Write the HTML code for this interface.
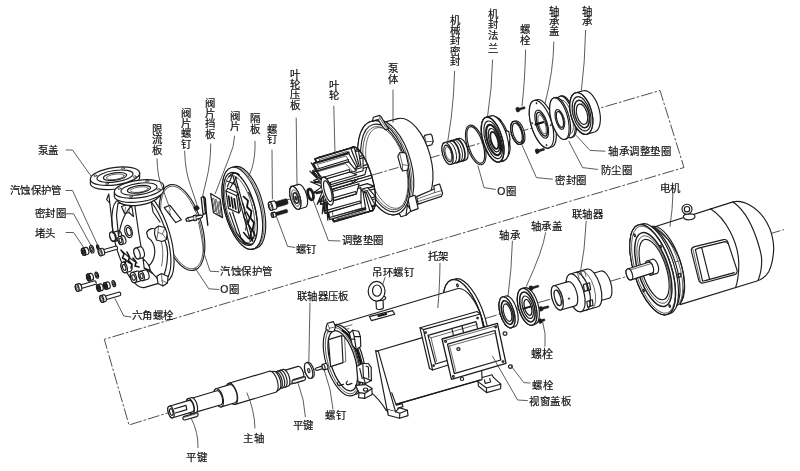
<!DOCTYPE html>
<html lang="zh-CN">
<head>
<meta charset="utf-8">
<title>泵结构分解图</title>
<style>
html,body{margin:0;padding:0;background:#fff;}
body{width:800px;height:471px;overflow:hidden;font-family:"Liberation Sans",sans-serif;}
svg{display:block;position:absolute;left:0;top:0;}
.o{fill:#fff;stroke:#1c1c1c;stroke-width:1.15;stroke-linejoin:round;stroke-linecap:round;}
.n{fill:none;stroke:#1c1c1c;stroke-width:1.15;stroke-linejoin:round;stroke-linecap:round;}
.t{fill:none;stroke:#2a2a2a;stroke-width:.7;stroke-linejoin:round;stroke-linecap:round;}
.b{fill:none;stroke:#111;stroke-width:1.5;stroke-linejoin:round;stroke-linecap:round;}
.k{fill:#1c1c1c;stroke:#1c1c1c;stroke-width:.5;stroke-linejoin:round;}
.ld{fill:none;stroke:#333;stroke-width:.8;stroke-linecap:round;stroke-linejoin:round;}
.ax{fill:none;stroke:#222;stroke-width:.8;stroke-dasharray:12 2 2.5 2;}
.lb{filter:grayscale(1);}
text{font-family:"Liberation Sans",sans-serif;font-size:10.4px;fill:#111;stroke:#111;stroke-width:.2;}
</style>
</head>
<body>
<svg width="800" height="471" viewBox="0 0 800 471">
<rect x="0" y="0" width="800" height="471" fill="#fff"/>
<!-- 00_axes -->
<g>
<path class="ax" d="M286 200.2L660 90.5L684 167.5L104.3 339.3L129 425L166 413.5"/>
<path class="ax" d="M166 413.5L784 229.6"/>
</g>
<!-- 10_cover -->
<g>
<ellipse cx="182" cy="227.5" rx="19.9" ry="44.4" transform="rotate(-16.3 182 227.5)" class="n"/>
<ellipse cx="182" cy="227.5" rx="18.4" ry="42.8" transform="rotate(-16.3 182 227.5)" class="t"/>
<path d="M119.15 199.44L141.22 192.99A16.2 45.8 -16.3 0 1 166.93 280.9L144.85 287.36A16.2 45.8 -16.3 0 1 119.15 199.44Z" class="o"/>
<path d="M144.38 195.98A16.2 44.8 -16.3 0 1 162.05 281.18" class="n"/>
<path d="M134.8 205.5L138.6 232L143 258.6" class="n"/>
<path d="M146.6 232.5C149 228 154 227 158 231C164 237 167.6 244 167.6 253C167.6 265 165 275 160.6 282L152.6 273.4L144.2 268L143 258.6C146 261 148 264 149 265.6C152 263 154.4 259 154.8 252C155 245 151 239.6 147.8 237.2Z" class="o"/>
<path d="M149 265.6L150.4 270.6L152.6 273.4M144.2 268L150.4 270.6" class="n"/>
<path d="M160.6 240C163 246 163.6 256 161.6 266" class="t"/>
<path d="M155 228.5L158.5 226L165 227.5L167 233L166.5 239.5L162 241.5L156.5 240L154.5 234Z" class="o"/>
<path d="M158.5 226L158 232.5L156.5 240M158 232.5L162.5 234L166.5 239.5M162.5 234L165 227.5" class="t"/>
<path d="M157 276L161.5 273.5L168 276.5L167.5 283L163 286L158 283.5Z" class="o"/>
<path d="M161.5 273.5L162 280.5L163 286M162 280.5L167.5 283" class="t"/>
<ellipse cx="128.5" cy="231.5" rx="3.6" ry="6.3" transform="rotate(-16.3 128.5 231.5)" class="o"/>
<ellipse cx="128.8" cy="231.5" rx="2.1" ry="4.1" transform="rotate(-16.3 128.8 231.5)" class="n"/>
<path d="M112.21 232.58L117.97 230.9A2.6 4.6 -16.3 0 1 120.55 239.73L114.79 241.42A2.6 4.6 -16.3 0 1 112.21 232.58Z" class="o"/>
<ellipse cx="113.5" cy="237" rx="2.6" ry="4.6" transform="rotate(-16.3 113.5 237)" class="o"/>
<ellipse cx="113.5" cy="237" rx="1.43" ry="2.53" transform="rotate(-16.3 113.5 237)" class="n"/>
<path d="M111.21 232.08L111.3 232.06A2.6 4.6 -16.3 0 1 113.89 240.89L113.79 240.92A2.6 4.6 -16.3 0 1 111.21 232.08Z" class="o"/>
<ellipse cx="112.5" cy="236.5" rx="2.6" ry="4.6" transform="rotate(-16.3 112.5 236.5)" class="o"/>
<path d="M119.32 236.47L122.2 235.63A2.4 4.2 -16.3 0 1 124.56 243.69L121.68 244.53A2.4 4.2 -16.3 0 1 119.32 236.47Z" class="o"/>
<ellipse cx="120.5" cy="240.5" rx="2.4" ry="4.2" transform="rotate(-16.3 120.5 240.5)" class="o"/>
<ellipse cx="120.5" cy="240.5" rx="1.32" ry="2.31" transform="rotate(-16.3 120.5 240.5)" class="n"/>
<path d="M135.43 248.13L139.75 246.86A2.8 5.6 -16.3 0 1 142.89 257.61L138.57 258.87A2.8 5.6 -16.3 0 1 135.43 248.13Z" class="o"/>
<ellipse cx="137" cy="253.5" rx="2.8" ry="5.6" transform="rotate(-16.3 137 253.5)" class="o"/>
<path d="M122.68 262.32L127.48 260.91A2.9 5.4 -16.3 0 1 130.51 271.28L125.72 272.68A2.9 5.4 -16.3 0 1 122.68 262.32Z" class="o"/>
<ellipse cx="124.2" cy="267.5" rx="2.9" ry="5.4" transform="rotate(-16.3 124.2 267.5)" class="o"/>
<ellipse cx="124.2" cy="267.5" rx="1.59" ry="2.97" transform="rotate(-16.3 124.2 267.5)" class="n"/>
<path d="M132.04 272.51L136.84 271.11A2.9 5.2 -16.3 0 1 139.76 281.09L134.96 282.49A2.9 5.2 -16.3 0 1 132.04 272.51Z" class="o"/>
<ellipse cx="133.5" cy="277.5" rx="2.9" ry="5.2" transform="rotate(-16.3 133.5 277.5)" class="o"/>
<ellipse cx="133.5" cy="277.5" rx="1.59" ry="2.86" transform="rotate(-16.3 133.5 277.5)" class="n"/>
<path d="M140.15 271.39L144.95 269.99A2.6 4.8 -16.3 0 1 147.65 279.2L142.85 280.61A2.6 4.8 -16.3 0 1 140.15 271.39Z" class="o"/>
<ellipse cx="141.5" cy="276" rx="2.6" ry="4.8" transform="rotate(-16.3 141.5 276)" class="o"/>
<ellipse cx="141.5" cy="276" rx="1.43" ry="2.64" transform="rotate(-16.3 141.5 276)" class="n"/>
<path d="M121 250L124 254L122.5 258L126 260L125 264M127 252L129.5 257L128 262L132 264L131 268M133 258L136 262L135 266L139 267" class="b"/>
<path d="M123 252L131 259L137 263" class="n"/>
<path d="M118 203L116.5 215L118.5 236C121 222 126 210 133 205ZM151 200.5L153 212L160 222" class="n"/>
<path d="M121.5 206.5L124.5 213.5L129 212.5L133.5 216.5L132 207.5L127.5 204.5Z" class="n"/>
<path d="M124.5 213.5L125.5 207.5M129 212.5L129.5 206.5" class="t"/>
<path d="M108.8 194L113.2 233.5M108.8 194L106.6 199.5L109.6 203" class="n"/>
<path d="M117.5 197.5C124 205 150 202.5 160.5 191L160 196C150 206.5 126 208.5 118 201.5Z" class="o"/>
<path d="M90.34 179.62L90.34 183.92A24.9 8.7 -7.9 0 0 139.66 177.08L139.66 172.78Z" class="o"/>
<ellipse cx="115" cy="176.2" rx="24.9" ry="8.7" transform="rotate(-7.9 115 176.2)" class="o"/>
<ellipse cx="115" cy="176.2" rx="18.18" ry="5.74" transform="rotate(-7.9 115 176.2)" class="n"/>
<ellipse cx="115" cy="176.5" rx="11.7" ry="3.65" transform="rotate(-7.9 115 176.5)" class="n"/>
<ellipse cx="115.3" cy="176.8" rx="8.96" ry="2.61" transform="rotate(-7.9 115.3 176.8)" class="t"/>
<ellipse cx="134.65" cy="176.59" rx="1.6" ry="0.8" transform="rotate(-7.9 134.65 176.59)" class="t"/>
<ellipse cx="106.95" cy="184" rx="1.6" ry="0.8" transform="rotate(-7.9 106.95 184)" class="t"/>
<ellipse cx="95.35" cy="175.81" rx="1.6" ry="0.8" transform="rotate(-7.9 95.35 175.81)" class="t"/>
<ellipse cx="123.05" cy="168.4" rx="1.6" ry="0.8" transform="rotate(-7.9 123.05 168.4)" class="t"/>
<path d="M114.34 192.42L114.34 196.72A24.9 8.7 -7.9 0 0 163.66 189.88L163.66 185.58Z" class="o"/>
<ellipse cx="139" cy="189" rx="24.9" ry="8.7" transform="rotate(-7.9 139 189)" class="o"/>
<ellipse cx="139" cy="189" rx="18.18" ry="5.74" transform="rotate(-7.9 139 189)" class="n"/>
<ellipse cx="139" cy="189.3" rx="11.7" ry="3.65" transform="rotate(-7.9 139 189.3)" class="n"/>
<ellipse cx="139.3" cy="189.6" rx="8.96" ry="2.61" transform="rotate(-7.9 139.3 189.6)" class="t"/>
<ellipse cx="158.65" cy="189.39" rx="1.6" ry="0.8" transform="rotate(-7.9 158.65 189.39)" class="t"/>
<ellipse cx="130.95" cy="196.8" rx="1.6" ry="0.8" transform="rotate(-7.9 130.95 196.8)" class="t"/>
<ellipse cx="119.35" cy="188.61" rx="1.6" ry="0.8" transform="rotate(-7.9 119.35 188.61)" class="t"/>
<ellipse cx="147.05" cy="181.2" rx="1.6" ry="0.8" transform="rotate(-7.9 147.05 181.2)" class="t"/>
</g>
<!-- 12_smallleft -->
<g>
<path d="M82.49 248.34L85.85 247.36A1.8 3.6 -16.3 0 1 87.87 254.27L84.51 255.26A1.8 3.6 -16.3 0 1 82.49 248.34Z" class="o"/>
<ellipse cx="83.5" cy="251.8" rx="1.8" ry="3.6" transform="rotate(-16.3 83.5 251.8)" class="o"/>
<ellipse cx="83.5" cy="251.8" rx="1.8" ry="3.6" transform="rotate(-16.3 83.5 251.8)" class="o" style="stroke-width:1.4"/>
<ellipse cx="83.5" cy="251.8" rx="0.9" ry="1.8" transform="rotate(-16.3 83.5 251.8)" class="n" style="stroke-width:1.6"/>
<ellipse cx="91.8" cy="249.2" rx="1.95" ry="3.9" transform="rotate(-16.3 91.8 249.2)" class="o"/>
<ellipse cx="91.8" cy="249.2" rx="0.97" ry="2.15" transform="rotate(-16.3 91.8 249.2)" class="n"/>
<ellipse cx="97.8" cy="247.2" rx="1.2" ry="2.4" transform="rotate(-16.3 97.8 247.2)" class="o"/>
<ellipse cx="97.8" cy="247.2" rx="0.6" ry="1.32" transform="rotate(-16.3 97.8 247.2)" class="n"/>
<path d="M102.22 250.04L116.14 245.97A0.85 1.7 -16.3 0 1 117.09 249.23L103.17 253.3A0.85 1.7 -16.3 0 1 102.22 250.04Z" class="o"/>
<path d="M99.22 249.04L101.71 248.31A1.75 3.5 -16.3 0 1 103.68 255.03L101.18 255.76A1.75 3.5 -16.3 0 1 99.22 249.04Z" class="o"/>
<ellipse cx="100.2" cy="252.4" rx="1.75" ry="3.5" transform="rotate(-16.3 100.2 252.4)" class="o"/>
<ellipse cx="100.2" cy="252.4" rx="0.98" ry="1.93" transform="rotate(-16.3 100.2 252.4)" class="t"/>
<path d="M87.55 274.24L90.62 273.34A1.7 3.4 -16.3 0 1 92.53 279.87L89.45 280.76A1.7 3.4 -16.3 0 1 87.55 274.24Z" class="o"/>
<ellipse cx="88.5" cy="277.5" rx="1.7" ry="3.4" transform="rotate(-16.3 88.5 277.5)" class="o"/>
<ellipse cx="88.5" cy="277.5" rx="1.7" ry="3.4" transform="rotate(-16.3 88.5 277.5)" class="o" style="stroke-width:1.4"/>
<ellipse cx="88.5" cy="277.5" rx="0.85" ry="1.7" transform="rotate(-16.3 88.5 277.5)" class="n" style="stroke-width:1.6"/>
<ellipse cx="96.8" cy="275.2" rx="1.6" ry="3.2" transform="rotate(-16.3 96.8 275.2)" class="o"/>
<ellipse cx="96.8" cy="275.2" rx="0.8" ry="1.76" transform="rotate(-16.3 96.8 275.2)" class="n"/>
<path d="M79.38 285.29L94.74 280.8A0.9 1.8 -16.3 0 1 95.75 284.25L80.39 288.74A0.9 1.8 -16.3 0 1 79.38 285.29Z" class="o"/>
<path d="M76.22 284.44L78.91 283.65A1.75 3.5 -16.3 0 1 80.87 290.37L78.18 291.16A1.75 3.5 -16.3 0 1 76.22 284.44Z" class="o"/>
<ellipse cx="77.2" cy="287.8" rx="1.75" ry="3.5" transform="rotate(-16.3 77.2 287.8)" class="o"/>
<ellipse cx="77.2" cy="287.8" rx="0.98" ry="1.93" transform="rotate(-16.3 77.2 287.8)" class="t"/>
<path d="M97.55 284.74L100.43 283.89A1.7 3.4 -16.3 0 1 102.33 290.42L99.45 291.26A1.7 3.4 -16.3 0 1 97.55 284.74Z" class="o"/>
<ellipse cx="98.5" cy="288" rx="1.7" ry="3.4" transform="rotate(-16.3 98.5 288)" class="o"/>
<ellipse cx="98.5" cy="288" rx="1.7" ry="3.4" transform="rotate(-16.3 98.5 288)" class="o" style="stroke-width:1.4"/>
<ellipse cx="98.5" cy="288" rx="0.85" ry="1.7" transform="rotate(-16.3 98.5 288)" class="n" style="stroke-width:1.6"/>
<path d="M104.55 282.74L107.43 281.89A1.7 3.4 -16.3 0 1 109.33 288.42L106.45 289.26A1.7 3.4 -16.3 0 1 104.55 282.74Z" class="o"/>
<ellipse cx="105.5" cy="286" rx="1.7" ry="3.4" transform="rotate(-16.3 105.5 286)" class="o"/>
<ellipse cx="105.5" cy="286" rx="1.7" ry="3.4" transform="rotate(-16.3 105.5 286)" class="o" style="stroke-width:1.4"/>
<ellipse cx="105.5" cy="286" rx="0.85" ry="1.7" transform="rotate(-16.3 105.5 286)" class="n" style="stroke-width:1.6"/>
<ellipse cx="113.8" cy="283.6" rx="1.6" ry="3.2" transform="rotate(-16.3 113.8 283.6)" class="o"/>
<ellipse cx="113.8" cy="283.6" rx="0.8" ry="1.76" transform="rotate(-16.3 113.8 283.6)" class="n"/>
<path d="M103.98 296.49L119.34 292A0.9 1.8 -16.3 0 1 120.35 295.45L104.99 299.94A0.9 1.8 -16.3 0 1 103.98 296.49Z" class="o"/>
<path d="M100.82 295.64L103.51 294.85A1.75 3.5 -16.3 0 1 105.47 301.57L102.78 302.36A1.75 3.5 -16.3 0 1 100.82 295.64Z" class="o"/>
<ellipse cx="101.8" cy="299" rx="1.75" ry="3.5" transform="rotate(-16.3 101.8 299)" class="o"/>
<ellipse cx="101.8" cy="299" rx="0.98" ry="1.93" transform="rotate(-16.3 101.8 299)" class="t"/>
<path d="M164.2 207.6L170 205.3L181.4 219.8L175.8 222.6Z" class="o"/>
<path d="M169 210.5L170.5 214.5" class="t"/>
<path d="M193.6 207.4L196.4 205.6L198.6 206.6L199.4 208.4L197.6 210.2L194.8 210.2Z" class="k"/>
<path d="M185.8 219.2L188.2 217.6L193 216.6L193.6 215.6L195.6 215.2L196.2 216L200.6 215L202.6 215.6L202.4 217L200.8 218.2L196.8 219.2L196.4 220.2L194.4 220.6L193.8 219.8L189.2 221L186.6 221.2Z" class="o" style="stroke-width:1.3"/>
<path d="M188.2 217.6L189.2 221M193.6 215.6L193.8 219.8M195.6 215.2L196.4 220.2" class="t"/>
<path d="M201.2 197.6L203.7 196.6L205.4 213.4L203.1 214.6Z" class="o" style="stroke-width:1.3"/>
<path d="M203.7 196.6L205.2 198.4L206.3 212.6L207.8 225.2" class="b" style="stroke-width:1.4"/>
</g>
<!-- 14_partition -->
<g>
<path d="M231.52 167.5L234.61 166.68A17.8 42.2 -14.8 0 1 256.17 248.28L253.08 249.1A17.8 42.2 -14.8 0 1 231.52 167.5Z" class="o"/>
<ellipse cx="242.3" cy="208.3" rx="17.8" ry="42.2" transform="rotate(-14.8 242.3 208.3)" class="o"/>
<path d="M236.17 166.91A17.8 42.2 -14.8 0 1 251.42 248.85" class="t"/>
<ellipse cx="240.3" cy="208.9" rx="14.6" ry="37.56" transform="rotate(-14.8 240.3 208.9)" class="n" style="stroke-width:1.3"/>
<ellipse cx="239.8" cy="209.1" rx="12.82" ry="34.6" transform="rotate(-14.8 239.8 209.1)" class="t"/>
<path d="M233.18 176.26L250.42 241.54M235.38 177.26L252.62 239.54" class="n"/>
<path d="M227.4 186.6L232.6 174.6M230 188L236.4 177.6M226.6 181L233.6 183.6L238.6 188.6" class="n"/>
<path d="M229 176.6C232 172.6 236 172 239 174.6" class="b"/>
<path d="M226 191L236.6 195.8L238.8 213L228.4 208.4Z" class="o"/>
<path d="M228.6 196L230.2 206.4M231.4 197.4L233 207.8M234.2 198.8L235.8 209" class="b" style="stroke-width:1.7"/>
<path d="M226 191L227.6 188.2L238 193L236.6 195.8M238 193L240.4 210.6L238.8 213" class="n"/>
<path d="M229.6 212.6L236.6 232.6M232.6 212L240.6 236.6M236.6 232.6L244.6 243.6" class="n"/>
<path d="M243.6 196.6L248 200.6L247 207L251.4 211L250.4 218L254 222.6L252.6 230L255 236" class="b" style="stroke-width:1.8"/>
<path d="M246.4 212L249.6 217.6L248 224L251.6 229.6L250 236.6L252.6 241" class="b"/>
<path d="M242.6 203L245 209.6L243.6 216.6L247 222.6L245.6 230" class="n"/>
<path d="M241 238L246 243.6L251.6 244.6M243.6 232.6L248.6 238.6L254 238" class="b"/>
<path d="M248.6 192.6C252.6 198.6 256 208.6 257 220" class="n"/>
</g>
<!-- 15_valveplate -->
<g>
<path d="M210.6 193.6L220.2 199.2L222.6 217.6L213.5 212.8Z" class="o" style="stroke-width:1.2"/>
<path d="M213.2 198.8L215 211" class="n" style="stroke-width:2.1"/>
<path d="M213.2 198.8L215 211" class="n" style="stroke-width:.9;stroke:#fff"/>
<path d="M215.9 200.2L217.8 213" class="n" style="stroke-width:2.1"/>
<path d="M215.9 200.2L217.8 213" class="n" style="stroke-width:.9;stroke:#fff"/>
<path d="M218.7 202.2L220.4 214.8" class="n" style="stroke-width:2.1"/>
<path d="M218.7 202.2L220.4 214.8" class="n" style="stroke-width:.9;stroke:#fff"/>
</g>
<!-- 16_screws_plate -->
<g>
<path d="M273.82 202.24L285.81 198.73A1.3 2.9 -16.3 0 1 287.44 204.3L275.45 207.8A1.3 2.9 -16.3 0 1 273.82 202.24Z" class="k"/>
<path d="M269.42 202.17L273.45 200.99A1.89 4.2 -16.3 0 1 275.81 209.05L271.78 210.23A1.89 4.2 -16.3 0 1 269.42 202.17Z" class="o"/>
<ellipse cx="270.6" cy="206.2" rx="1.89" ry="4.2" transform="rotate(-16.3 270.6 206.2)" class="o"/>
<ellipse cx="270.6" cy="206.2" rx="1.05" ry="2.31" transform="rotate(-16.3 270.6 206.2)" class="t"/>
<path d="M274.42 212.84L286.42 209.33A0.77 1.7 -16.3 0 1 287.37 212.59L275.37 216.1A0.77 1.7 -16.3 0 1 274.42 212.84Z" class="k"/>
<path d="M271.73 212.9L274.22 212.17A1.08 2.4 -16.3 0 1 275.57 216.77L273.07 217.5A1.08 2.4 -16.3 0 1 271.73 212.9Z" class="o"/>
<ellipse cx="272.4" cy="215.2" rx="1.08" ry="2.4" transform="rotate(-16.3 272.4 215.2)" class="o"/>
<ellipse cx="272.4" cy="215.2" rx="0.6" ry="1.32" transform="rotate(-16.3 272.4 215.2)" class="t"/>
<path d="M291.96 186.38L298.68 184.41A4.7 11.9 -16.3 0 1 305.36 207.26L298.64 209.22A4.7 11.9 -16.3 0 1 291.96 186.38Z" class="o"/>
<ellipse cx="295.3" cy="197.8" rx="4.7" ry="11.9" transform="rotate(-16.3 295.3 197.8)" class="o"/>
<ellipse cx="295.3" cy="197.8" rx="4.7" ry="11.9" transform="rotate(-16.3 295.3 197.8)" class="o" style="stroke-width:1.2"/>
<ellipse cx="295.6" cy="198" rx="3.3" ry="8.6" transform="rotate(-16.3 295.6 198)" class="t"/>
<ellipse cx="295.8" cy="198.1" rx="2.1" ry="5.4" transform="rotate(-16.3 295.8 198.1)" class="n" style="stroke-width:1.5"/>
<ellipse cx="295.9" cy="198.2" rx="0.9" ry="2.3" transform="rotate(-16.3 295.9 198.2)" class="k"/>
<ellipse cx="310.6" cy="194.4" rx="2.5" ry="5.5" transform="rotate(-16.3 310.6 194.4)" class="o" style="stroke-width:2.7"/>
</g>
<!-- 18_pumpbody -->
<g>
<path d="M423.5 138L424.6 135.4L430.6 134L432 135.6L433.2 141.4L431.8 144.8L426.2 146.4Z" class="o"/>
<path d="M424.6 135.4L426 141.6L426.2 146.4M426 141.6L433.2 141.4" class="t"/>
<path d="M376.48 124.26L397.73 118.57A21.9 44 -15 0 1 420.5 203.57L399.25 209.27A21.9 44 -15 0 1 376.48 124.26Z" class="o"/>
<path d="M371.52 121.24L375 120.31A24.0 48.2 -15.0 0 1 399.95 213.43L396.48 214.36A24.0 48.2 -15.0 0 1 371.52 121.24Z" class="o"/>
<path d="M375.47 120.35A24 48.2 -15 0 1 396.28 214.19" class="t"/>
<path d="M416.6 196.6L434.3 189L433.8 185.9L439.6 184L442.6 193.2L441.4 196.4L418.2 204Z" class="o"/>
<path d="M417.2 199L434.6 192.6L441.8 190.6M417.8 201.6L441.2 194.2M434.3 189L434.6 192.6" class="t"/>
<path d="M402.8 195L407.6 197.6L415 195.3L418.2 208.6L410.6 211.4L406 215.2L401 216.8L398.6 212.4Z" class="o"/>
<path d="M407.6 197.6L410.6 211.4M402.8 195L407.4 205L406 215.2M407.4 205L410 209" class="n"/>
<ellipse cx="384" cy="167.8" rx="24" ry="48.2" transform="rotate(-15 384 167.8)" class="o"/>
<ellipse cx="384.8" cy="168" rx="21.8" ry="45" transform="rotate(-15 384.8 168)" class="n"/>
<ellipse cx="385.4" cy="168.2" rx="20.4" ry="42.8" transform="rotate(-15 385.4 168.2)" class="t"/>
<path d="M402.45 205.51A19.4 41.6 -15 1 1 381.65 127.89" class="t"/>
<path d="M372.4 121.4L373.4 117.2L379.6 115.4L381 116.6L386.4 125.8L388.8 128.6L385.4 129.6L382.4 126.4L378 119.6L374.2 120.6Z" class="o"/>
<path d="M379.6 115.4L380 118.6L378 119.6M380 118.6L385.8 127.4" class="t"/>
<path d="M397.8 156.4L399.6 152.8L404.6 152.4L406 154L408.6 165.6L407.6 170L402.6 171L401 168Z" class="o"/>
<path d="M399.6 152.8L402.4 164.6L402.6 171M402.4 164.6L408.6 165.6" class="t"/>
<path class="ax" d="M371 175.4L398.5 167.4"/>
</g>
<!-- 22_impeller -->
<g>
<path d="M351.03 148.01A10.2 33.5 -16.3 1 1 368.54 210.97" class="o"/>
<path d="M330.35 189.66L335.46 185.72L371.45 175.19L366.34 179.14Z" class="o"/>
<path d="M330.71 191.15L335.99 188.27L372.18 177.72L371.45 175.19L335.46 185.72L330.35 189.66Z" class="o"/>
<path d="M328.91 185.18L331.55 175L367.55 164.48L364.9 174.66Z" class="o"/>
<path d="M329.42 186.6L332.38 177.55L368.5 166.78L367.55 164.48L331.55 175L328.91 185.18Z" class="o"/>
<path d="M331.27 194.15L338.22 196.91L374.21 186.39L367.26 183.62Z" class="o"/>
<path d="M331.43 195.52L338.39 199.17L374.64 188.83L374.21 186.39L338.22 196.91L331.27 194.15Z" class="o"/>
<path d="M327.11 181.25L326.98 166.06L362.98 155.53L363.11 170.72Z" class="o"/>
<path d="M327.72 182.44L328 168.29L364.04 157.33L362.98 155.53L326.98 166.06L327.11 181.25Z" class="o"/>
<path d="M331.55 198.1L339.5 207.24L375.5 196.71L367.54 187.57Z" class="o"/>
<path d="M335.94 197.96L342.31 205.27L371.1 196.85L364.74 189.54Z" class="t"/>
<path d="M331.5 199.18L339.3 208.92L375.56 198.79L375.5 196.71L339.5 207.24L331.55 198.1Z" class="o"/>
<path d="M325.19 178.33L322.29 159.97L358.29 149.44L361.18 167.81Z" class="o"/>
<path d="M328.5 175.44L326.18 160.75L354.98 152.33L357.29 167.02Z" class="t"/>
<path d="M325.81 179.14L323.38 161.62L359.32 150.52L358.29 149.44L322.29 159.97L325.19 178.33Z" class="o"/>
<path d="M331.16 201.03L339.16 215.45L375.15 204.93L367.16 190.51Z" class="o"/>
<path d="M335.56 201.42L341.96 212.96L370.76 204.54L364.36 193Z" class="t"/>
<path d="M330.9 201.7L338.6 216.35L374.85 206.37L375.15 204.93L339.16 215.45L331.16 201.03Z" class="o"/>
<path d="M323.36 176.79L318.05 157.46L354.04 146.94L359.35 166.26Z" class="o"/>
<path d="M326.43 173.8L322.18 158.34L350.98 149.92L355.22 165.38Z" class="t"/>
<path d="M323.93 177.12L319.08 158.33L354.93 147.16L354.04 146.94L318.05 157.46L323.36 176.79Z" class="o"/>
<path d="M330.15 202.6L337.23 220.56L373.23 210.03L366.15 192.08Z" class="o"/>
<path d="M334.46 203.34L340.12 217.71L368.92 209.29L363.26 194.92Z" class="t"/>
<path d="M329.71 202.78L336.39 220.57L372.59 210.68L373.23 210.03L337.23 220.56L330.15 202.6Z" class="o"/>
<path d="M321.85 176.8L314.77 158.84L350.76 148.32L357.84 166.27Z" class="o"/>
<path d="M324.74 173.95L319.07 159.59L347.87 151.17L353.53 165.53Z" class="t"/>
<path d="M322.29 176.62L315.61 158.83L351.39 147.67L350.76 148.32L314.77 158.84L321.85 176.8Z" class="o"/>
<path d="M328.64 202.61L333.95 221.94L369.94 211.41L364.64 192.09Z" class="o"/>
<path d="M332.77 203.49L337.02 218.95L365.81 210.53L361.57 195.07Z" class="t"/>
<path d="M328.07 202.28L332.92 221.07L369.05 211.19L369.94 211.41L333.95 221.94L328.64 202.61Z" class="o"/>
<path d="M320.84 178.37L312.84 163.95L348.83 153.42L356.83 167.84Z" class="o"/>
<path d="M323.64 175.87L317.24 164.34L346.03 155.92L352.43 167.45Z" class="t"/>
<path d="M321.1 177.7L313.4 163.05L349.13 151.98L348.83 153.42L312.84 163.95L320.84 178.37Z" class="o"/>
<path d="M326.81 201.07L329.71 219.43L365.7 208.91L362.81 190.54Z" class="o"/>
<path d="M330.7 201.85L333.02 216.54L361.81 208.12L359.5 193.43Z" class="t"/>
<path d="M326.19 200.26L328.62 217.78L364.66 207.83L365.7 208.91L329.71 219.43L326.81 201.07Z" class="o"/>
<path d="M320.45 181.3L312.5 172.16L348.49 161.64L356.44 170.78Z" class="o"/>
<path d="M323.25 179.34L316.89 172.02L345.69 163.6L352.05 170.92Z" class="t"/>
<path d="M320.5 180.22L312.7 170.48L348.42 159.56L348.49 161.64L312.5 172.16L320.45 181.3Z" class="o"/>
<path d="M324.89 198.15L325.02 213.34L361.01 202.82L360.88 187.63Z" class="o"/>
<path d="M324.28 196.96L324 211.11L359.95 201.02L361.01 202.82L325.02 213.34L324.89 198.15Z" class="o"/>
<path d="M320.73 185.25L313.78 182.49L349.78 171.96L356.73 174.73Z" class="o"/>
<path d="M320.57 183.88L313.61 180.23L349.35 169.52L349.78 171.96L313.78 182.49L320.73 185.25Z" class="o"/>
<path d="M323.09 194.22L320.45 204.4L356.44 193.87L359.09 183.69Z" class="o"/>
<path d="M322.58 192.8L319.62 201.85L355.48 191.57L356.44 193.87L320.45 204.4L323.09 194.22Z" class="o"/>
<path d="M321.65 189.74L316.54 193.68L352.54 183.16L357.64 179.21Z" class="o"/>
<path d="M321.29 188.25L316.01 191.13L351.8 180.63L352.54 183.16L316.54 193.68L321.65 189.74Z" class="o"/>
<ellipse cx="327.2" cy="191.1" rx="4.9" ry="14.6" transform="rotate(-16.3 327.2 191.1)" class="o" style="stroke-width:1.3"/>
<ellipse cx="327.8" cy="191.1" rx="3.2" ry="10.8" transform="rotate(-16.3 327.8 191.1)" class="n"/>
<path d="M326.94 181.2A3 10 -16.3 0 1 332.46 200.11" class="t"/>
<path d="M320.68 178.98L311.18 162.82L321.3 177.36" class="o"/>
<path d="M327.29 201.59L327.86 220.21L325.8 199.69" class="o"/>
<path d="M320.46 182.21L309.88 171.19L320.57 179.61" class="o"/>
<path d="M325.37 198.99L322.26 213.78L323.91 196.19" class="o"/>
<path d="M320.91 186.34L310.52 181.78L320.5 183.08" class="o"/>
<path d="M323.52 195.27L317.11 204.45L322.28 191.9" class="o"/>
<path d="M321.97 190.88L313.04 193.33L321.1 187.35" class="o"/>
<path d="M352.25 147.14A10.2 33.5 -16.3 1 1 369.55 211.34" class="n"/>
</g>
<!-- 30_sealgroup -->
<g>
<path d="M444.49 142.64L459.38 138.37A5 11.3 -16 0 1 465.61 160.09L450.71 164.36A5 11.3 -16 0 1 444.49 142.64Z" class="o"/>
<ellipse cx="447.6" cy="153.5" rx="5" ry="11.3" transform="rotate(-16 447.6 153.5)" class="o"/>
<path d="M447.59 141.76A5 11.3 -16 1 1 453.81 163.47" class="n" style="stroke-width:1.0"/>
<path d="M450.66 140.87A5 11.3 -16 1 1 456.89 162.58" class="n" style="stroke-width:1.7"/>
<path d="M453.55 140.05A5 11.3 -16 1 1 459.77 161.76" class="n" style="stroke-width:1.0"/>
<path d="M456.05 139.33A5 11.3 -16 1 1 462.27 161.04" class="n" style="stroke-width:1.6"/>
<ellipse cx="448.1" cy="153.5" rx="3.7" ry="8.7" transform="rotate(-16 448.1 153.5)" class="n"/>
<ellipse cx="448.5" cy="153.5" rx="2.8" ry="6.9" transform="rotate(-16 448.5 153.5)" class="t"/>
<ellipse cx="475.75" cy="144.9" rx="8.6" ry="20.6" transform="rotate(-17.5 475.75 144.9)" class="n"/>
<ellipse cx="475.75" cy="144.9" rx="7.2" ry="19" transform="rotate(-17.5 475.75 144.9)" class="n"/>
<path d="M491.52 117.66L493.63 117.03A8.83 21.34 -16.5 0 1 505.76 157.96L503.65 158.59A8.83 21.34 -16.5 0 1 491.52 117.66Z" class="o"/>
<ellipse cx="497.59" cy="138.12" rx="8.83" ry="21.34" transform="rotate(-16.5 497.59 138.12)" class="o"/>
<path d="M494.6 119.6L497.4 117.6L500.8 120.2L499.4 122.6ZM505.6 130.4L508.8 131.6L510 138.6L509 146.4L506.4 147.2ZM502.4 155.8L505.4 156.4L504.6 160.4L501.6 161.8Z" class="o"/>
<path d="M486.01 117.36L491 115.88A9.6 23.2 -16.5 0 1 504.18 160.37L499.19 161.84A9.6 23.2 -16.5 0 1 486.01 117.36Z" class="o"/>
<ellipse cx="492.6" cy="139.6" rx="9.6" ry="23.2" transform="rotate(-16.5 492.6 139.6)" class="o"/>
<ellipse cx="492.6" cy="139.6" rx="9.6" ry="23.2" transform="rotate(-16.5 492.6 139.6)" class="o" style="stroke-width:1.5"/>
<ellipse cx="493.2" cy="139.8" rx="7.87" ry="19.49" transform="rotate(-16.5 493.2 139.8)" class="n"/>
<ellipse cx="493.6" cy="140" rx="6.34" ry="15.78" transform="rotate(-16.5 493.6 140)" class="n" style="stroke-width:2.1"/>
<ellipse cx="494" cy="140.2" rx="4.8" ry="12.06" transform="rotate(-16.5 494 140.2)" class="n"/>
<ellipse cx="494.4" cy="140.4" rx="3.46" ry="8.82" transform="rotate(-16.5 494.4 140.4)" class="n" style="stroke-width:1.9"/>
<path d="M493.79 131.49A3.46 8.82 -16.5 0 1 498.78 148.34" class="t"/>
<path d="M513.62 121.49L515.35 120.98A5.5 11.9 -16.5 0 1 522.11 143.8L520.38 144.31A5.5 11.9 -16.5 0 1 513.62 121.49Z" class="o"/>
<ellipse cx="517" cy="132.9" rx="5.5" ry="11.9" transform="rotate(-16.5 517 132.9)" class="o"/>
<ellipse cx="517" cy="132.9" rx="5.5" ry="11.9" transform="rotate(-16.5 517 132.9)" class="o" style="stroke-width:1.3"/>
<ellipse cx="517.3" cy="132.9" rx="4.3" ry="10" transform="rotate(-16.5 517.3 132.9)" class="n"/>
<path d="M518.52 108.39L524.28 106.71A0.5 1 -16.3 0 1 524.84 108.63L519.08 110.31A0.5 1 -16.3 0 1 518.52 108.39Z" class="k"/>
<path d="M516.58 107.69L518.02 107.27A1 2.2 -16.3 0 1 519.26 111.49L517.82 111.91A1 2.2 -16.3 0 1 516.58 107.69Z" class="k"/>
<ellipse cx="517.2" cy="109.8" rx="1" ry="2.2" transform="rotate(-16.3 517.2 109.8)" class="k"/>
<path d="M537.92 149.99L543.68 148.31A0.5 1 -16.3 0 1 544.24 150.23L538.48 151.91A0.5 1 -16.3 0 1 537.92 149.99Z" class="k"/>
<path d="M535.98 149.29L537.42 148.87A1 2.2 -16.3 0 1 538.66 153.09L537.22 153.51A1 2.2 -16.3 0 1 535.98 149.29Z" class="k"/>
<ellipse cx="536.6" cy="151.4" rx="1" ry="2.2" transform="rotate(-16.3 536.6 151.4)" class="k"/>
<path d="M534.08 100.53L536.76 99.7A10.2 24.8 -17.4 0 1 551.59 147.03L548.92 147.87A10.2 24.8 -17.4 0 1 534.08 100.53Z" class="o"/>
<ellipse cx="541.5" cy="124.2" rx="10.2" ry="24.8" transform="rotate(-17.4 541.5 124.2)" class="o"/>
<ellipse cx="541.7" cy="124.2" rx="5.6" ry="14.6" transform="rotate(-17.4 541.7 124.2)" class="n"/>
<ellipse cx="541.9" cy="124.2" rx="4.4" ry="12.4" transform="rotate(-17.4 541.9 124.2)" class="n" style="stroke-width:1.3"/>
<ellipse cx="542.1" cy="124.4" rx="3.2" ry="10" transform="rotate(-17.4 542.1 124.4)" class="t"/>
<path d="M540.79 114.61A3.2 10 -17.4 0 1 546.75 133.62" class="t"/>
<path d="M535.6 124.4L543 122.2" class="b" style="stroke-width:2.2"/>
<ellipse cx="536.53" cy="103.24" rx="0.5" ry="0.9" transform="rotate(-17.4 536.53 103.24)" class="k"/>
<ellipse cx="550.88" cy="125.23" rx="0.5" ry="0.9" transform="rotate(-17.4 550.88 125.23)" class="k"/>
<ellipse cx="546.47" cy="145.16" rx="0.5" ry="0.9" transform="rotate(-17.4 546.47 145.16)" class="k"/>
<ellipse cx="532.12" cy="123.17" rx="0.5" ry="0.9" transform="rotate(-17.4 532.12 123.17)" class="k"/>
<path d="M560.04 96.27L561.4 95.91A8.3 21.4 -15 0 1 572.47 137.25L571.12 137.61A8.3 21.4 -15 0 1 560.04 96.27Z" class="o"/>
<ellipse cx="565.58" cy="116.94" rx="8.3" ry="21.4" transform="rotate(-15 565.58 116.94)" class="o"/>
<ellipse cx="565.88" cy="116.94" rx="6.4" ry="17.4" transform="rotate(-15 565.88 116.94)" class="t"/>
<path d="M553.86 97.93L555.41 97.52A8.3 21.4 -15 0 1 566.48 138.86L564.94 139.27A8.3 21.4 -15 0 1 553.86 97.93Z" class="o"/>
<ellipse cx="559.4" cy="118.6" rx="8.3" ry="21.4" transform="rotate(-15 559.4 118.6)" class="o"/>
<ellipse cx="559.7" cy="119.4" rx="4" ry="10.2" transform="rotate(-15 559.7 119.4)" class="n"/>
<ellipse cx="559.9" cy="119.4" rx="3" ry="8.2" transform="rotate(-15 559.9 119.4)" class="n"/>
<path d="M559.54 111.24A3 8.2 -15 0 1 563.77 127.02" class="t"/>
<path d="M575.65 92.86L583.37 90.75A10.4 21.4 -15.3 0 1 594.66 132.03L586.95 134.14A10.4 21.4 -15.3 0 1 575.65 92.86Z" class="o"/>
<ellipse cx="581.3" cy="113.5" rx="10.4" ry="21.4" transform="rotate(-15.3 581.3 113.5)" class="o"/>
<ellipse cx="581.3" cy="113.5" rx="10.4" ry="21.4" transform="rotate(-15.3 581.3 113.5)" class="o" style="stroke-width:1.3"/>
<ellipse cx="581.6" cy="113.8" rx="8.6" ry="17.6" transform="rotate(-15.3 581.6 113.8)" class="n"/>
<ellipse cx="581.8" cy="114" rx="7" ry="14" transform="rotate(-15.3 581.8 114)" class="n" style="stroke-width:1.5"/>
<ellipse cx="582" cy="114.2" rx="5.2" ry="10.4" transform="rotate(-15.3 582 114.2)" class="n"/>
<path d="M581.6 103.59A5.2 10.4 -15.3 0 1 587.07 123.57" class="t"/>
</g>
<!-- 40_motor -->
<g>
<path d="M654 227L733 201.9C739 200.4 745 202.4 750 205.2C756 208.6 761 213.6 764 218C768 224 771 230 772.2 236.7C773.6 242 774 248 773.4 253C772.8 260 771.4 266.4 768.7 271.7C766 276.4 762 279.4 757 281L680 304.6C690 282 682 246 654 227Z" class="o"/>
<path d="M710.4 208.7C726 218 738.6 243 738.8 264C738.8 274 737.6 282 735.6 287.6" class="n"/>
<path d="M733 202C738 205.4 742 210 745.4 214.8C750 221.6 753.6 230 756.4 238C759.6 247.6 761.7 254 761.7 260C761.8 268 760.4 274.6 758.2 279.9" class="n"/>
<path d="M652.51 226.4A16.46 41.36 -17.8 0 1 676.69 305.46" class="n"/>
<path d="M649.86 226.26A16.83 42.3 -17.8 0 1 674.59 307.12" class="t"/>
<path d="M646.11 225.99A17.39 43.71 -17.8 0 1 671.66 309.54" class="n"/>
<path d="M676.5 274.5L680.5 273.4L681 276.6L677.4 277.8Z" class="n"/>
<path d="M694.6 246.6L723.6 239.6Q726.8 239 727.8 242L737 270Q737.8 273.4 734.6 274.6L703.4 283Q700 283.6 698.8 280.4L691.4 251.2Q690.8 247.6 694.6 246.6Z" class="o"/>
<path d="M701.6 247.4L725.2 241.6Q727 241.6 727.6 243.4M701.6 247.4L709.6 279.4L734.4 272.6M701.6 247.4Q698.6 248 695.4 249.6L702.6 281.2Q706 280.6 709.6 279.4" class="n"/>
<path d="M693 249.6L700.4 281.6" class="t"/>
<path d="M683.4 216.6C683.4 213.6 694.8 212.6 695 216.2C695.4 220.4 684 221.4 683.4 216.6Z" class="o"/>
<circle cx="687" cy="209.2" r="5" class="o"/><circle cx="687" cy="209.2" r="2.7" class="n"/>
<path d="M638.33 225L641.38 224.02A18.7 47 -17.8 0 1 670.11 313.52L667.07 314.5A18.7 47 -17.8 0 1 638.33 225Z" class="o"/>
<ellipse cx="652.7" cy="269.75" rx="18.7" ry="47" transform="rotate(-17.8 652.7 269.75)" class="o"/>
<ellipse cx="652.7" cy="269.75" rx="18.7" ry="47" transform="rotate(-17.8 652.7 269.75)" class="o"/>
<ellipse cx="653.4" cy="269.65" rx="17.7" ry="45.5" transform="rotate(-17.8 653.4 269.65)" class="t"/>
<ellipse cx="653.3" cy="269.55" rx="15.15" ry="38.54" transform="rotate(-17.8 653.3 269.55)" class="n" style="stroke-width:1.5"/>
<ellipse cx="653.7" cy="269.55" rx="13.65" ry="35.25" transform="rotate(-17.8 653.7 269.55)" class="t"/>
<ellipse cx="654.1" cy="269.55" rx="12.15" ry="31.49" transform="rotate(-17.8 654.1 269.55)" class="n"/>
<ellipse cx="634.65" cy="235.41" rx="0.7" ry="1.3" transform="rotate(-17.8 634.65 235.41)" class="n"/>
<ellipse cx="660.53" cy="246.61" rx="0.7" ry="1.3" transform="rotate(-17.8 660.53 246.61)" class="n"/>
<ellipse cx="669.7" cy="306.07" rx="0.7" ry="1.3" transform="rotate(-17.8 669.7 306.07)" class="n"/>
<ellipse cx="643.59" cy="290.54" rx="0.7" ry="1.3" transform="rotate(-17.8 643.59 290.54)" class="n"/>
<path d="M647.13 260.93L652.37 259.25A3.6 7.4 -17.8 0 1 656.89 273.34L651.66 275.03A3.6 7.4 -17.8 0 1 647.13 260.93Z" class="o"/>
<ellipse cx="649.39" cy="267.98" rx="3.6" ry="7.4" transform="rotate(-17.8 649.39 267.98)" class="o"/>
<path d="M627.66 268.97L648.6 262.25A2.9 5.7 -17.8 0 1 652.09 273.1L631.14 279.83A2.9 5.7 -17.8 0 1 627.66 268.97Z" class="o"/>
<ellipse cx="629.4" cy="274.4" rx="2.9" ry="5.7" transform="rotate(-17.8 629.4 274.4)" class="o"/>
<path d="M631.5 269.6L651 263.6" class="t"/>
</g>
<!-- 42_coupling -->
<g>
<path d="M502.59 296.97L505.86 296.03A6.9 16 -16 0 1 514.68 326.79L511.41 327.73A6.9 16 -16 0 1 502.59 296.97Z" class="o"/>
<ellipse cx="507" cy="312.35" rx="6.9" ry="16" transform="rotate(-16 507 312.35)" class="o"/>
<ellipse cx="507" cy="312.35" rx="6.9" ry="16" transform="rotate(-16 507 312.35)" class="o" style="stroke-width:1.3"/>
<ellipse cx="507.3" cy="312.55" rx="5.2" ry="12.2" transform="rotate(-16 507.3 312.55)" class="n" style="stroke-width:1.6"/>
<ellipse cx="507.5" cy="312.65" rx="3.7" ry="9" transform="rotate(-16 507.5 312.65)" class="n"/>
<path d="M506.64 303.64A3.7 9 -16 0 1 511.58 320.88" class="t"/>
<path d="M521.86 288.54L524.36 287.82A8.6 19 -16 0 1 534.84 324.35L532.34 325.06A8.6 19 -16 0 1 521.86 288.54Z" class="o"/>
<ellipse cx="527.1" cy="306.8" rx="8.6" ry="19" transform="rotate(-16 527.1 306.8)" class="o"/>
<ellipse cx="527.1" cy="306.8" rx="8.6" ry="19" transform="rotate(-16 527.1 306.8)" class="o" style="stroke-width:1.3"/>
<ellipse cx="527.4" cy="307" rx="6.8" ry="15.4" transform="rotate(-16 527.4 307)" class="n" style="stroke-width:1.6"/>
<ellipse cx="527.7" cy="307.2" rx="5" ry="11.6" transform="rotate(-16 527.7 307.2)" class="n"/>
<ellipse cx="527.9" cy="307.4" rx="3.4" ry="8.2" transform="rotate(-16 527.9 307.4)" class="n" style="stroke-width:1.3"/>
<path d="M523.6 308.6L530.2 306.6" class="b" style="stroke-width:1.8"/>
<path d="M531.72 286.99L538.07 285.17A0.5 1 -16 0 1 538.62 287.09L532.28 288.91A0.5 1 -16 0 1 531.72 286.99Z" class="k"/>
<path d="M529.79 286.29L531.24 285.87A1 2.2 -16 0 1 532.45 290.1L531.01 290.51A1 2.2 -16 0 1 529.79 286.29Z" class="k"/>
<ellipse cx="530.4" cy="288.4" rx="1" ry="2.2" transform="rotate(-16 530.4 288.4)" class="k"/>
<path d="M541.72 307.59L548.07 305.77A0.5 1 -16 0 1 548.62 307.69L542.28 309.51A0.5 1 -16 0 1 541.72 307.59Z" class="k"/>
<path d="M539.79 306.89L541.24 306.47A1 2.2 -16 0 1 542.45 310.7L541.01 311.11A1 2.2 -16 0 1 539.79 306.89Z" class="k"/>
<ellipse cx="540.4" cy="309" rx="1" ry="2.2" transform="rotate(-16 540.4 309)" class="k"/>
<path d="M540.92 319.79L544.19 318.85A0.5 1 -16 0 1 544.74 320.77L541.48 321.71A0.5 1 -16 0 1 540.92 319.79Z" class="k"/>
<path d="M538.99 319.09L540.44 318.67A1 2.2 -16 0 1 541.65 322.9L540.21 323.31A1 2.2 -16 0 1 538.99 319.09Z" class="k"/>
<ellipse cx="539.6" cy="321.2" rx="1" ry="2.2" transform="rotate(-16 539.6 321.2)" class="k"/>
<path d="M587.09 274.95L601.12 270.93A6 14.2 -16 0 1 608.95 298.23L594.91 302.25A6 14.2 -16 0 1 587.09 274.95Z" class="o"/>
<ellipse cx="591" cy="288.6" rx="6" ry="14.2" transform="rotate(-16 591 288.6)" class="o"/>
<path d="M570.2 273.96L587.02 269.14A8.2 19.6 -16 0 1 597.82 306.82L581 311.64A8.2 19.6 -16 0 1 570.2 273.96Z" class="o"/>
<ellipse cx="575.6" cy="292.8" rx="8.2" ry="19.6" transform="rotate(-16 575.6 292.8)" class="o"/>
<path d="M575.48 272.44A8.2 19.6 -16 0 1 586.29 310.12" class="n"/>
<path d="M580.77 270.93A8.2 19.6 -16 0 1 591.58 308.61" class="t"/>
<path d="M583.4 284.6L589.6 282.8L590.6 289.6L584.4 291.4ZM586.6 283.8L587.6 290.4" class="n"/>
<path d="M586.8 301.6L592.4 299.8L593 305.4L587.6 307.2ZM589.6 300.8L590.4 306.2" class="n"/>
<path d="M577.6 273.4L579 278.6M581.2 272.4L582.6 277.6M584.8 271.4L586 276.4" class="t"/>
<path d="M553.83 285.79L568.25 281.65A5.2 12.6 -16 0 1 575.19 305.88L560.77 310.01A5.2 12.6 -16 0 1 553.83 285.79Z" class="o"/>
<ellipse cx="557.3" cy="297.9" rx="5.2" ry="12.6" transform="rotate(-16 557.3 297.9)" class="o"/>
<ellipse cx="557.7" cy="297.9" rx="3" ry="8" transform="rotate(-16 557.7 297.9)" class="n"/>
<path d="M557.15 289.87A3 8 -16 0 1 561.55 305.19" class="t"/>
<circle cx="569" cy="298.6" r="0.8" class="k"/>
</g>
<!-- 50_bracket -->
<g>
<path d="M451.66 279.92L454.92 278.95A18 46 -16.6 0 1 481.2 367.11L477.94 368.08A18 46 -16.6 0 1 451.66 279.92Z" class="o"/>
<ellipse cx="464.8" cy="324" rx="18" ry="46" transform="rotate(-16.6 464.8 324)" class="o"/>
<ellipse cx="464.8" cy="324" rx="18" ry="46" transform="rotate(-16.6 464.8 324)" class="o"/>
<ellipse cx="457.47" cy="285.38" rx="0.8" ry="1.5" transform="rotate(-16.6 457.47 285.38)" class="n"/>
<ellipse cx="468.09" cy="294.76" rx="0.8" ry="1.5" transform="rotate(-16.6 468.09 294.76)" class="n"/>
<ellipse cx="477.4" cy="312.91" rx="0.8" ry="1.5" transform="rotate(-16.6 477.4 312.91)" class="n"/>
<ellipse cx="483.13" cy="336.39" rx="0.8" ry="1.5" transform="rotate(-16.6 483.13 336.39)" class="n"/>
<path d="M478 381.6L480.4 378L492 374.8L493.4 377.4L500.8 384.2L500.6 388.8L486.6 392.6L478.4 386Z" class="o"/>
<path d="M478 381.6L486.4 388L486.6 392.6M486.4 388L500.8 384.2M484.4 379.8L485.2 383.4L490.6 382L489.8 378.6" class="n"/>
<path d="M376.4 351.2L480 321L482 379.6L396 404.4Z" class="o"/>
<path d="M331.57 326.19L457.11 288.77A15.4 35.8 -16.6 0 1 477.57 357.38L352.03 394.81A15.4 35.8 -16.6 0 1 331.57 326.19Z" class="o"/>
<path d="M352.6 394.4L372 398L476 368L478 352L380 352Z" fill="#fff" stroke="none"/>
<path d="M376.4 351.2L430 335.4" class="n"/>
<path d="M396 404.4L480 380" class="n"/>
<path d="M371 392.6Q379 398.6 386.4 410.6" class="n"/>
<path d="M369.4 316.6L392.6 310.6L394.8 314.2L371.4 320.6Z" class="o"/>
<path d="M378.4 316L386.2 314" class="b" style="stroke-width:2"/>
<path d="M343.2 327.2L352 324.8M346 329.4L349 328.6" class="t"/>
<path d="M375.6 350.6L378.4 351.6L395.6 411.8L387 409.4Z" class="o"/>
<path d="M387 409.4L388.2 415.2L399.6 418.2L408 415.6L407.4 410.2L399.2 407.6L395.6 411.8M388.2 415.2L387.6 410" class="o"/>
<path d="M395.6 411.8L399.8 413.2L407.4 410.2M399.8 413.2L399.6 418.2M396.4 405.2L402.2 403.6L403 406.6L397.6 408.2" class="n"/>
<ellipse cx="341.8" cy="360.5" rx="16" ry="36.6" transform="rotate(-16.6 341.8 360.5)" class="o"/>
<path d="M334.02 324.81A16 36.6 -16.6 0 1 355.98 394.59" class="n"/>
<ellipse cx="342.3" cy="360.6" rx="14.5" ry="34.4" transform="rotate(-16.6 342.3 360.6)" class="t"/>
<ellipse cx="342.8" cy="360.7" rx="12.4" ry="31.2" transform="rotate(-16.6 342.8 360.7)" class="n" style="stroke-width:1.3"/>
<path d="M328.4 339.6L341.6 335.6L343 362.6L330.6 366.6Z" class="o"/>
<path d="M341.6 335.6L344.6 337L345.8 361.4L343 362.6" class="t"/>
<path d="M342.66 330.68A12 29.8 -16.6 0 1 360.12 382.51" class="b" style="stroke-width:2.1"/>
<path d="M348.77 331.8A12.4 29.8 -16.6 0 1 364.36 377.9" class="n"/>
<path d="M338.6 381.6C336.6 383 337.2 385.8 339.6 385.4L343.6 384.2M347.4 381.2C345.4 382.6 346 385 348.4 384.6L352 383.4" class="n"/>
<path d="M325.8 328.4L327.4 323.2L333.4 321.6L335.6 326.8L334 331.2L328.6 331.6Z" class="o"/>
<path d="M327.4 323.2L329.4 328.2L328.6 331.6M329.4 328.2L335.6 326.8" class="t"/>
<path d="M349.4 333.4L352.6 330.2L358.6 331.2L360.4 336.6L360.8 346.6L356.2 349.4L352.4 345.4Z" class="o"/>
<path d="M352.6 330.2L354.2 336.6L356.2 349.4M354.2 336.6L360.4 336.6M351 339L355 339.4" class="n"/>
<path d="M356.6 366.6L362.8 363.2L368.6 363.8L371.2 367.4L371.4 380.6L365.4 383.4L358 381.6Z" class="o"/>
<path d="M362.8 363.2L363.4 377.2L365.4 383.4M363.4 377.2L371.4 380.6M359.8 368.6L362.2 378.6M366.2 366.2L368.4 367L368.8 377.8" class="n"/>
<path d="M355.6 385.4L359 392.6L358.6 397.6L364.6 398.4L372.2 394.6L371.8 388.2L365.6 384.6Z" class="o"/>
<path d="M359 392.6L364.8 393.4L372 388.6M364.8 393.4L364.6 398.4" class="n"/>
<ellipse cx="365.6" cy="389.6" rx="2.2" ry="1.6" class="n"/>
</g>
<!-- 52_window -->
<g>
<path d="M420 327.8L477 311.5L480.4 314L489 352L432.6 370L429.5 368.5Z" class="o"/>
<path d="M420 327.8L423.4 329.6L480.4 314M423.4 329.6L432.6 370" class="n"/>
<path d="M428 335.4L476 321.6L482.6 349.6L435.6 364Z" class="o"/>
<path d="M431 337.8L436.6 361.4M428 335.4L431 337.8L477.4 324.4" class="t"/>
<circle cx="425.6" cy="332.6" r="0.8" class="n"/>
<circle cx="477.6" cy="318" r="0.8" class="n"/>
<circle cx="433.6" cy="365.6" r="0.8" class="n"/>
<circle cx="484.4" cy="349.6" r="0.8" class="n"/>
<path d="M452 329L454.6 341M462 326L465 339" class="n"/>
<path d="M442 339L497.4 323.3L506 363.4L451.5 379.4Z" class="o" style="stroke-width:1.3"/>
<path d="M443.8 340.8L497.2 325.6" class="t"/>
<path d="M447.5 344.1L495 330.5L500.8 360L454.3 373.6Z" class="n" style="stroke-width:1.3"/>
<path d="M449.6 346L455.8 371.4M449.6 346L495.6 333" class="t"/>
<circle cx="445.6" cy="341.4" r="0.9" class="n"/>
<circle cx="495.6" cy="327" r="0.9" class="n"/>
<circle cx="453.4" cy="376.4" r="0.9" class="n"/>
<circle cx="503" cy="361.6" r="0.9" class="n"/>
<ellipse cx="458.4" cy="349" rx="1.6" ry="1.4" class="n"/>
<ellipse cx="505" cy="333.6" rx="2" ry="1.7" class="n"/><ellipse cx="510.4" cy="366.6" rx="2" ry="1.7" class="n"/>
<ellipse cx="462" cy="379" rx="1.7" ry="1.5" class="n"/>
</g>
<!-- 54_eyebolt -->
<g>
<path d="M376 301L383 300L383.4 307.6C383.4 309.6 376.6 310.4 376.4 308.2Z" class="o"/>
<path d="M373.4 298.8C373.4 296.4 385.6 295 385.8 297.8C386 300.8 373.8 302 373.4 298.8Z" class="o"/>
<ellipse cx="376.6" cy="291.2" rx="8.4" ry="9.8" class="o" style="stroke-width:1.2"/>
<ellipse cx="377" cy="290.6" rx="4.5" ry="5.6" class="o"/>
</g>
<!-- 60_shaft -->
<g>
<path d="M282.93 370.91L298.07 366.4A3.33 7.4 -16.6 0 1 302.3 380.58L287.15 385.09A3.33 7.4 -16.6 0 1 282.93 370.91Z" class="o"/>
<ellipse cx="285.04" cy="378" rx="3.33" ry="7.4" transform="rotate(-16.6 285.04 378)" class="o"/>
<path d="M272.94 372.43L283.01 369.43A3.96 8.8 -16.6 0 1 288.03 386.29L277.97 389.29A3.96 8.8 -16.6 0 1 272.94 372.43Z" class="o"/>
<ellipse cx="275.46" cy="380.86" rx="3.96" ry="8.8" transform="rotate(-16.6 275.46 380.86)" class="o"/>
<path d="M275.34 371.71A3.96 8.8 -16.6 0 1 280.37 388.58" class="n"/>
<path d="M277.73 371A3.96 8.8 -16.6 0 1 282.76 387.86" class="n"/>
<path d="M280.13 370.28A3.96 8.8 -16.6 0 1 285.16 387.15" class="n"/>
<path d="M269.3 372.47L273.14 371.33A4.41 9.8 -16.6 0 1 278.74 390.11L274.9 391.25A4.41 9.8 -16.6 0 1 269.3 372.47Z" class="o"/>
<ellipse cx="272.1" cy="381.86" rx="4.41" ry="9.8" transform="rotate(-16.6 272.1 381.86)" class="o"/>
<path d="M228.81 383.29L269.44 371.18A4.95 11 -16.6 0 1 275.72 392.26L235.09 404.37A4.95 11 -16.6 0 1 228.81 383.29Z" class="o"/>
<ellipse cx="231.95" cy="393.83" rx="4.95" ry="11" transform="rotate(-16.6 231.95 393.83)" class="o"/>
<path d="M215.91 388.7L229.62 384.61A4.28 9.5 -16.6 0 1 235.05 402.82L221.34 406.91A4.28 9.5 -16.6 0 1 215.91 388.7Z" class="o"/>
<ellipse cx="218.63" cy="397.8" rx="4.28" ry="9.5" transform="rotate(-16.6 218.63 397.8)" class="o"/>
<path d="M190.96 398.43L216.83 390.72A3.29 7.3 -16.6 0 1 221 404.71L195.13 412.42A3.29 7.3 -16.6 0 1 190.96 398.43Z" class="o"/>
<ellipse cx="193.04" cy="405.43" rx="3.29" ry="7.3" transform="rotate(-16.6 193.04 405.43)" class="o"/>
<path d="M188.1 398.66L191.26 397.72A3.56 7.9 -16.6 0 1 195.78 412.86L192.62 413.8A3.56 7.9 -16.6 0 1 188.1 398.66Z" class="o"/>
<ellipse cx="190.36" cy="406.23" rx="3.56" ry="7.9" transform="rotate(-16.6 190.36 406.23)" class="o"/>
<path d="M169.29 406.25L189.03 400.36A2.7 6 -16.6 0 1 192.46 411.86L172.71 417.75A2.7 6 -16.6 0 1 169.29 406.25Z" class="o"/>
<ellipse cx="171" cy="412" rx="2.7" ry="6" transform="rotate(-16.6 171 412)" class="o"/>
<path d="M293.4 379.6L303.6 376.6Q305.6 376.4 305.6 378.2Q305.6 379.8 304 380.4L294 383.4Q292 383.6 291.8 381.8Q291.8 380.4 293.4 379.6Z" class="o"/>
<path d="M292.4 381L305 377.2" class="t"/>
<ellipse cx="171.3" cy="412" rx="1.6" ry="3.4" transform="rotate(-16.6 171.3 412)" class="n"/>
<path d="M174.6 408.8L186 405.4L186.8 409.6L175.4 413" class="n"/>
<path d="M184.2 416.4L196.2 412.8Q198.2 412.6 198.2 414.4Q198.2 416 196.6 416.6L185 420Q183 420.2 182.8 418.4Q182.8 417 184.2 416.4Z" class="o"/>
<path d="M183.4 417.6L197.6 413.4" class="t"/>
<path d="M306.26 362.74L307.79 362.28A3.6 8.2 -16.6 0 1 312.48 378L310.94 378.46A3.6 8.2 -16.6 0 1 306.26 362.74Z" class="o"/>
<ellipse cx="308.6" cy="370.6" rx="3.6" ry="8.2" transform="rotate(-16.6 308.6 370.6)" class="o"/>
<ellipse cx="308.8" cy="370.6" rx="1" ry="2.2" transform="rotate(-16.6 308.8 370.6)" class="n"/>
<path d="M316.03 367.95L323.7 365.67A0.7 1.3 -16.6 0 1 324.44 368.16L316.77 370.45A0.7 1.3 -16.6 0 1 316.03 367.95Z" class="o"/>
<path d="M322.77 364.32L325.65 363.46A1.3 2.9 -16.6 0 1 327.3 369.02L324.43 369.88A1.3 2.9 -16.6 0 1 322.77 364.32Z" class="o"/>
<ellipse cx="323.6" cy="367.1" rx="1.3" ry="2.9" transform="rotate(-16.6 323.6 367.1)" class="o"/>
</g>
<!-- 90_leaders -->
<g>
<path class="ld" d="M66 150L72.5 150L91.5 176.8"/>
<path class="ld" d="M66 190.5L72.5 190.5L97.6 245"/>
<path class="ld" d="M66 213.8L73.6 213.8L91.4 246.2"/>
<path class="ld" d="M66 232.5L73.6 232.5L83.8 247.6"/>
<path class="ld" d="M115 298.8L123.8 316L131 317"/>
<path class="ld" d="M157 158.8Q157.6 178 161.8 186Q166 198 170.4 210"/>
<path class="ld" d="M184.6 151.2Q185.4 172 190 184L197.4 206"/>
<path class="ld" d="M210.8 143.8Q210.6 164 206.4 180L202.6 196"/>
<path class="ld" d="M234.6 136.2Q234.4 146 229 158L215.2 193.6"/>
<path class="ld" d="M255 141.2Q255.6 156 252 168L248.8 176.4"/>
<path class="ld" d="M272 150L272.4 198.8"/>
<path class="ld" d="M296.2 118L297 185"/>
<path class="ld" d="M333.8 106.2L335 153.8"/>
<path class="ld" d="M393 90L393 122.4"/>
<path class="ld" d="M454.6 71.2Q454 96 451.2 118L447.6 142.4"/>
<path class="ld" d="M492.6 60Q492 88 487.6 116.2"/>
<path class="ld" d="M525.6 50Q525 80 522 106"/>
<path class="ld" d="M553.8 42Q553.6 70 545 103.6"/>
<path class="ld" d="M585.6 30.4Q585 62 581.4 90.4"/>
<path class="ld" d="M198.6 222.6Q202.4 240 203.8 252.5L210 271.2L218.8 271.7"/>
<path class="ld" d="M195 268L208.8 288.8L218.8 289.5"/>
<path class="ld" d="M276.4 216.4L287.6 246.4L294.8 247.4"/>
<path class="ld" d="M312.6 198.6L328.4 240.6L340 241"/>
<path class="ld" d="M478 166L484 187.6L495.4 189.4"/>
<path class="ld" d="M521.4 143.8L536.4 177.6L552.4 179.2"/>
<path class="ld" d="M568.8 141.2L582.6 167.6L597.6 169.4"/>
<path class="ld" d="M576.4 135.6L590 150.4L605 151.2"/>
<path class="ld" d="M673 192.6Q672.6 210 670 226.2"/>
<path class="ld" d="M586.2 221.2Q585 250 580 275"/>
<path class="ld" d="M545.6 232.6Q543 250 526.4 286.2"/>
<path class="ld" d="M512.4 241.2Q511.6 270 508 296.2"/>
<path class="ld" d="M440 263.4Q439.6 290 437.8 307.6"/>
<path class="ld" d="M385 277.6L382.6 284.8"/>
<path class="ld" d="M310 303L308.8 363.6"/>
<path class="ld" d="M542.6 321.4Q546.4 334 545 346.2"/>
<path class="ld" d="M511.4 366.4L523.8 382.6L530 383"/>
<path class="ld" d="M492.6 356.4L517.6 400L527.4 400.6"/>
<path class="ld" d="M324.4 370.6Q331.6 390 333 409"/>
<path class="ld" d="M298 382.8Q304.6 400 305.4 416.8"/>
<path class="ld" d="M247 393Q254.4 410 255 428"/>
<path class="ld" d="M191.4 418.8Q198.4 432 198 447.6"/>
</g>
<!-- 95_labels -->
<g>
<g class="lb">
<text x="37.7" y="153.5" textLength="20.7" lengthAdjust="spacing">泵盖</text>
<text x="9.7" y="193.6" textLength="51.75" lengthAdjust="spacing">汽蚀保护管</text>
<text x="34.7" y="217.1" textLength="31.05" lengthAdjust="spacing">密封圈</text>
<text x="34.7" y="237.3" textLength="20.7" lengthAdjust="spacing">堵头</text>
<text x="131.7" y="319.2" textLength="41.4" lengthAdjust="spacing">六角螺栓</text>
<text x="220.3" y="275.4" textLength="51.75" lengthAdjust="spacing">汽蚀保护管</text>
<text x="220.2" y="293" textLength="18.42" lengthAdjust="spacing">O圈</text>
<text x="295.7" y="253" textLength="20.7" lengthAdjust="spacing">螺钉</text>
<text x="341.7" y="244" textLength="41.4" lengthAdjust="spacing">调整垫圈</text>
<text x="497.2" y="195" textLength="18.42" lengthAdjust="spacing">O圈</text>
<text x="555.1" y="184.1" textLength="31.05" lengthAdjust="spacing">密封圈</text>
<text x="600.7" y="174" textLength="31.05" lengthAdjust="spacing">防尘圈</text>
<text x="608.4" y="155" textLength="62.1" lengthAdjust="spacing">轴承调整垫圈</text>
<text x="659.7" y="191.6" textLength="20.7" lengthAdjust="spacing">电机</text>
<text x="571.7" y="218" textLength="31.05" lengthAdjust="spacing">联轴器</text>
<text x="530.7" y="229.6" textLength="31.05" lengthAdjust="spacing">轴承盖</text>
<text x="499.2" y="239" textLength="20.7" lengthAdjust="spacing">轴承</text>
<text x="427.7" y="260" textLength="20.7" lengthAdjust="spacing">托架</text>
<text x="372.2" y="276" textLength="41.4" lengthAdjust="spacing">吊环螺钉</text>
<text x="296.7" y="299.5" textLength="51.75" lengthAdjust="spacing">联轴器压板</text>
<text x="530.7" y="357.6" textLength="21.89" lengthAdjust="spacing" style="font-size:11px">螺栓</text>
<text x="532.2" y="388.6" textLength="20.7" lengthAdjust="spacing">螺栓</text>
<text x="529.2" y="405" textLength="41.4" lengthAdjust="spacing">视窗盖板</text>
<text x="325.2" y="419.3" textLength="20.7" lengthAdjust="spacing">螺钉</text>
<text x="292.7" y="429.2" textLength="20.7" lengthAdjust="spacing">平键</text>
<text x="243.1" y="442.4" textLength="20.7" lengthAdjust="spacing">主轴</text>
<text x="186.1" y="460.5" textLength="20.7" lengthAdjust="spacing">平键</text>
<text text-anchor="middle"><tspan x="156.5" y="132.8">限</tspan><tspan x="156.5" y="143.2">流</tspan><tspan x="156.5" y="153.6">板</tspan></text>
<text text-anchor="middle"><tspan x="185.5" y="116.5">阀</tspan><tspan x="185.5" y="126.85">片</tspan><tspan x="185.5" y="137.2">螺</tspan><tspan x="185.5" y="147.55">钉</tspan></text>
<text text-anchor="middle"><tspan x="209.7" y="106.5">阀</tspan><tspan x="209.7" y="116.85">片</tspan><tspan x="209.7" y="127.2">挡</tspan><tspan x="209.7" y="137.55">板</tspan></text>
<text text-anchor="middle"><tspan x="234.7" y="119.8">阀</tspan><tspan x="234.7" y="130.1">片</tspan></text>
<text text-anchor="middle"><tspan x="254.6" y="122.3">隔</tspan><tspan x="254.6" y="132.5">板</tspan></text>
<text text-anchor="middle"><tspan x="272.2" y="132.8">螺</tspan><tspan x="272.2" y="143.1">钉</tspan></text>
<text text-anchor="middle"><tspan x="294.7" y="77.8">叶</tspan><tspan x="294.7" y="88.05">轮</tspan><tspan x="294.7" y="98.3">压</tspan><tspan x="294.7" y="108.55">板</tspan></text>
<text text-anchor="middle"><tspan x="334" y="89">叶</tspan><tspan x="334" y="99.2">轮</tspan></text>
<text text-anchor="middle"><tspan x="393" y="72">泵</tspan><tspan x="393" y="82.6">体</tspan></text>
<text text-anchor="middle"><tspan x="454.8" y="23.5">机</tspan><tspan x="454.8" y="33.85">械</tspan><tspan x="454.8" y="44.2">封</tspan><tspan x="454.8" y="54.55">密</tspan><tspan x="454.8" y="64.9">封</tspan></text>
<text text-anchor="middle"><tspan x="493.4" y="17.8">机</tspan><tspan x="493.4" y="28.15">封</tspan><tspan x="493.4" y="38.5">法</tspan><tspan x="493.4" y="51.65">兰</tspan></text>
<text text-anchor="middle"><tspan x="525.4" y="33.3">螺</tspan><tspan x="525.4" y="43.7">栓</tspan></text>
<text text-anchor="middle"><tspan x="554.1" y="14.5">轴</tspan><tspan x="554.1" y="24.8">承</tspan><tspan x="554.1" y="35.1">盖</tspan></text>
<text text-anchor="middle"><tspan x="586.6" y="14.5">轴</tspan><tspan x="586.6" y="24.7">承</tspan></text>
</g>
</g>
</svg>
</body>
</html>
